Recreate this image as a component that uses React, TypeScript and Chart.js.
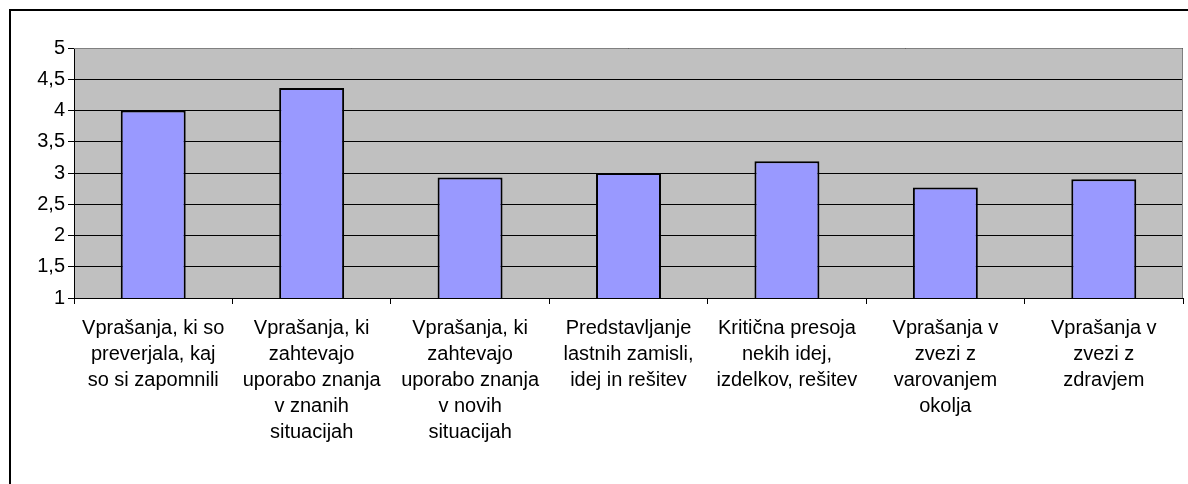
import React, { useEffect, useRef } from "react";
import { Chart, registerables } from "chart.js";

Chart.register(...registerables);

const categories: string[][] = [
  ["Vprašanja, ki so", "preverjala, kaj", "so si zapomnili"],
  ["Vprašanja, ki", "zahtevajo", "uporabo znanja", "v znanih", "situacijah"],
  ["Vprašanja, ki", "zahtevajo", "uporabo znanja", "v novih", "situacijah"],
  ["Predstavljanje", "lastnih zamisli,", "idej in rešitev"],
  ["Kritična presoja", "nekih idej,", "izdelkov, rešitev"],
  ["Vprašanja v", "zvezi z", "varovanjem", "okolja"],
  ["Vprašanja v", "zvezi z", "zdravjem"],
];

const values: number[] = [4.0, 4.36, 2.93, 3.0, 3.19, 2.77, 2.9];

const yMin = 1;
const yMax = 5;
const yStep = 0.5;

const FONT = "'Liberation Sans', Arial, sans-serif";

const plotBackground = {
  id: "plotBackground",
  beforeDraw(chart: any) {
    const { ctx, chartArea: a } = chart;
    ctx.save();
    ctx.fillStyle = "#C0C0C0";
    ctx.fillRect(a.left, a.top, a.right - a.left, a.bottom - a.top);
    ctx.restore();
  },
  beforeDatasetsDraw(chart: any) {
    const { ctx, chartArea: a } = chart;
    ctx.save();
    ctx.strokeStyle = "#808080";
    ctx.lineWidth = 1;
    ctx.beginPath();
    ctx.moveTo(a.left, a.top + 0.5);
    ctx.lineTo(a.right - 0.5, a.top + 0.5);
    ctx.lineTo(a.right - 0.5, a.bottom);
    ctx.stroke();
    ctx.restore();
  },
};

export default function App() {
  const canvasRef = useRef<HTMLCanvasElement | null>(null);

  useEffect(() => {
    if (!canvasRef.current) return;
    const chart = new Chart(canvasRef.current, {
      type: "bar",
      data: {
        labels: categories,
        datasets: [
          {
            data: values,
            backgroundColor: "#9999FF",
            borderColor: "#000000",
            borderWidth: 2,
            barPercentage: 0.41,
            categoryPercentage: 1,
          },
        ],
      },
      options: {
        animation: false,
        responsive: false,
        maintainAspectRatio: false,
        layout: { padding: { top: 48, right: 5, left: 0, bottom: 0 } },
        plugins: {
          legend: { display: false },
          tooltip: { enabled: false },
        },
        scales: {
          x: {
            afterFit: (scale: any) => {
              scale.height = 186;
            },
            grid: {
              drawOnChartArea: false,
              drawTicks: true,
              tickLength: 6,
              tickColor: "#000000",
              offset: true,
            },
            border: { display: true, color: "#000000", width: 1 },
            ticks: {
              color: "#000000",
              autoSkip: false,
              maxRotation: 0,
              minRotation: 0,
              padding: 12,
              font: { family: FONT, size: 20, lineHeight: 1.29 },
            },
          },
          y: {
            min: yMin,
            max: yMax,
            afterFit: (scale: any) => {
              scale.width = 74;
            },
            grid: {
              color: "#000000",
              lineWidth: 1,
              drawTicks: true,
              tickLength: 6,
              tickColor: "#000000",
            },
            border: { display: true, color: "#000000", width: 1 },
            ticks: {
              stepSize: yStep,
              color: "#000000",
              padding: 3,
              font: { family: FONT, size: 20 },
              callback: (v: any) => String(v).replace(".", ","),
            },
          },
        },
      },
      plugins: [plotBackground],
    });
    return () => chart.destroy();
  }, []);

  return (
    <div
      style={{
        position: "fixed",
        left: 0,
        top: 0,
        width: 1188,
        height: 484,
        background: "#ffffff",
        overflow: "hidden",
      }}
    >
      <div
        style={{
          position: "absolute",
          left: 9,
          top: 9,
          width: 1300,
          height: 600,
          border: "2px solid #000000",
        }}
      />
      <canvas
        ref={canvasRef}
        width={1188}
        height={484}
        style={{ position: "absolute", left: 0, top: 0 }}
      />
    </div>
  );
}
